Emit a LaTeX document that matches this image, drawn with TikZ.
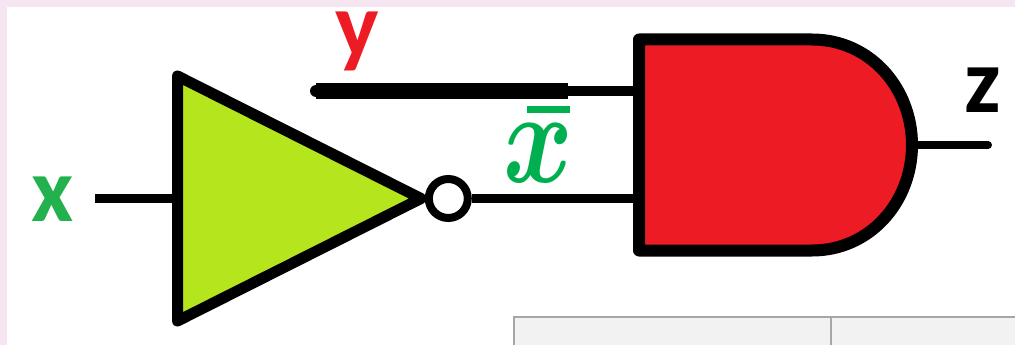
\documentclass[tikz,border=0pt]{standalone}
\usepackage{fontspec}
\setmainfont{Carlito}
\definecolor{pagepink}{HTML}{F6E6F2}
\definecolor{lime}{HTML}{B5E61D}
\definecolor{gatered}{HTML}{ED1C24}
\definecolor{labelgreen}{HTML}{22B14C}
\definecolor{bargreen}{HTML}{00B050}
\definecolor{tablegray}{HTML}{A6A6A6}
\definecolor{tablefill}{HTML}{F2F2F2}
\tikzset{
  gatebody/.style={draw=black,line join=round},
  wire/.style={draw=black,line width=9pt},
  biglabel/.style={font=\fontsize{92}{92}\selectfont\bfseries,inner sep=0pt,anchor=base}
}
\begin{document}
\begin{tikzpicture}[x=1pt,y=-1pt]
\useasboundingbox (0,0) rectangle (1015,345);
% page background
\fill[pagepink] (0,0) rectangle (1015,345);
\fill[white] (7,7) rectangle (1015,345);
% table fragment
\begin{scope}
\clip (0,0) rectangle (1015,345);
\filldraw[fill=tablefill,draw=tablegray,line width=2pt] (514,316.5) rectangle (1017,347);
\draw[tablegray,line width=2pt] (831,316.5) -- (831,347);
\end{scope}
% anchors
\coordinate (xin) at (95,198.5);
\coordinate (notin) at (177,198.5);
\coordinate (ystart) at (316,91);
\coordinate (ymid) at (568,91);
\coordinate (andA) at (639,91);
\coordinate (andB) at (639,198.5);
\coordinate (andout) at (912,145);
\coordinate (zend) at (988,145);
% wires
\node[circle,draw=black,fill=white,line width=8pt,minimum size=39pt,inner sep=0pt] (bubble) at (448.3,198.5) {};
\draw[wire,line width=8.5pt] (xin) -- (notin);
\draw[wire] (bubble.east) -- (andB);
\draw[wire,line width=10pt] (ymid) -- (andA);
\draw[black,line width=16pt] (ystart) -- (ymid);
\fill[black] (ystart) circle (6pt);
\draw[wire,line width=8pt,line cap=round] (andout) -- (zend);
% gates
\path[gatebody,fill=lime,line width=11pt] (177.5,76) -- (177.5,321) -- (421,198.5) -- cycle;
\path[gatebody,fill=gatered,line width=12pt] (639,39.5) -- (812,39.5)
  .. controls (870,39.5) and (912,88) .. (912,145)
  .. controls (912,202) and (870,250.5) .. (812,250.5)
  -- (639,250.5) -- cycle;
% labels
\node[biglabel,text=labelgreen] (lx) at (53,221) {x};
\node[biglabel,text=gatered] (ly) at (357,57) {y};
\node[biglabel,text=black] (lz) at (982.5,113) {z};
\node[inner sep=0pt,anchor=base,text=bargreen,xscale=10.6,yscale=13.2] (lxbar) at (538,182) {\hbox{\boldmath$x$}};
\fill[bargreen] (527,106) rectangle (570,113);
\end{tikzpicture}
\end{document}
